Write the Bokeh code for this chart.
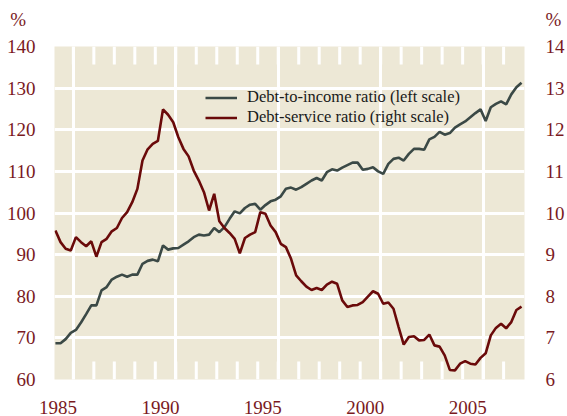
from bokeh.plotting import figure
from bokeh.models import Range1d, LinearAxis, FixedTicker, Grid, Legend, LegendItem, AllLabels
from bokeh.embed import file_html
from bokeh.resources import INLINE

# ---- data (quarterly, starting 1985 Q1) ----
start_year = 1984.875
debt_to_income = [
    68.7, 68.7, 69.7, 71.2, 71.9, 73.7, 75.7, 77.8, 77.8, 81.4,
    82.2, 84.0, 84.7, 85.2, 84.7, 85.2, 85.2, 87.8, 88.5, 88.8,
    88.4, 92.2, 91.2, 91.5, 91.6, 92.4, 93.2, 94.2, 94.8, 94.6,
    94.8, 96.4, 95.4, 96.6, 98.6, 100.4, 99.9, 101.2, 102.0, 102.2,
    100.8, 101.9, 102.8, 103.2, 104.0, 105.8, 106.1, 105.6, 106.2, 107.0,
    107.8, 108.4, 107.8, 109.8, 110.5, 110.2, 110.9, 111.5, 112.1, 112.1,
    110.4, 110.6, 111.0, 110.0, 109.4, 111.8, 113.0, 113.3, 112.6, 114.2,
    115.4, 115.4, 115.2, 117.7, 118.3, 119.5, 118.8, 119.2, 120.5, 121.3,
    122.0, 123.0, 124.0, 124.9, 122.1, 125.4, 126.2, 126.8, 126.1, 128.5,
    130.2, 131.3,
]
debt_service = [
    9.58, 9.30, 9.14, 9.10, 9.42, 9.30, 9.20, 9.32, 8.95, 9.30,
    9.38, 9.56, 9.64, 9.88, 10.02, 10.26, 10.58, 11.26, 11.53, 11.66,
    11.73, 12.49, 12.36, 12.18, 11.82, 11.54, 11.36, 11.02, 10.78, 10.50,
    10.06, 10.46, 9.80, 9.64, 9.52, 9.38, 9.03, 9.40, 9.48, 9.54,
    10.02, 9.98, 9.70, 9.54, 9.26, 9.18, 8.90, 8.50, 8.36, 8.23,
    8.15, 8.20, 8.15, 8.28, 8.35, 8.30, 7.90, 7.74, 7.78, 7.79,
    7.86, 7.99, 8.12, 8.06, 7.82, 7.85, 7.70, 7.26, 6.84, 7.02,
    7.04, 6.94, 6.95, 7.08, 6.82, 6.79, 6.58, 6.23, 6.22, 6.38,
    6.44, 6.38, 6.36, 6.52, 6.63, 7.06, 7.24, 7.34, 7.23, 7.38,
    7.67, 7.75,
]
year_labels = [1985, 1990, 1995, 2000, 2005]
all_years = list(range(1985, 2007))
left_ticks = [60, 70, 80, 90, 100, 110, 120, 130, 140]
right_ticks = [6, 7, 8, 9, 10, 11, 12, 13, 14]
series_names = ["Debt-to-income ratio (left scale)", "Debt-service ratio (right scale)"]
unit_label = "%"

x = [start_year + 0.25 * i for i in range(len(debt_to_income))]

BG = "#EDE8D6"
GREY = "#3B4946"
RED = "#6A0A0A"
TXT = "#7A1A1E"
FONT = "Liberation Serif"
NBSP = "\u00a0"

Y0, Y1 = 60, 140
p = figure(width=567, height=416, output_backend="svg", toolbar_location=None,
           x_range=Range1d(1984.83, 2007.77), y_range=Range1d(Y0, Y1),
           x_axis_type=None, y_axis_type=None,
           min_border_left=54, min_border_right=34, min_border_top=46, min_border_bottom=37)
p.extra_y_ranges = {"right": Range1d(6, 14)}
p.background_fill_color = BG
p.border_fill_color = "white"
p.outline_line_color = None

def label_axis(ax, standoff):
    ax.major_tick_line_color = None
    ax.minor_tick_line_color = None
    ax.axis_line_color = None
    ax.major_label_text_font = FONT
    ax.major_label_text_font_size = "19px"
    ax.major_label_text_color = TXT
    ax.major_label_standoff = standoff
    ax.major_label_policy = AllLabels()
    ax.major_label_text_line_height = 1.3
    return ax

# the "%" unit sits one line above the top tick label of each value axis
left_axis = label_axis(LinearAxis(ticker=FixedTicker(ticks=left_ticks)), 13)
left_axis.major_label_overrides = {left_ticks[-1]: unit_label + NBSP * 2 + "\n" + str(left_ticks[-1]) + "\n" + NBSP}
right_axis = label_axis(LinearAxis(y_range_name="right", ticker=FixedTicker(ticks=right_ticks)), 15)
right_axis.major_label_overrides = {right_ticks[-1]: unit_label + "\n" + str(right_ticks[-1]) + "\n" + NBSP}
p.add_layout(left_axis, "left")
p.add_layout(right_axis, "right")
p.add_layout(label_axis(LinearAxis(ticker=FixedTicker(ticks=year_labels)), 15), "below")

p.add_layout(Grid(dimension=1, ticker=FixedTicker(ticks=left_ticks[1:-1]),
                  grid_line_color="white", grid_line_width=3))
p.add_layout(Grid(dimension=0, ticker=FixedTicker(ticks=[yr + 0.75 for yr in year_labels]),
                  grid_line_color="white", grid_line_width=3))

# short white year ticks along the top and bottom edges of the plot area
px_per_unit = 333.0 / (Y1 - Y0)
tick_len = 18 / px_per_unit
minor_pos = [yr + 0.75 for yr in all_years]
p.segment(x0=minor_pos, x1=minor_pos, y0=[Y0] * len(minor_pos), y1=[Y0 + tick_len] * len(minor_pos),
          line_color="white", line_width=3)
p.segment(x0=minor_pos, x1=minor_pos, y0=[Y1] * len(minor_pos), y1=[Y1 - tick_len] * len(minor_pos),
          line_color="white", line_width=3)

r1 = p.line(x, debt_to_income, line_color=GREY, line_width=2.6)
r2 = p.line(x, debt_service, y_range_name="right", line_color=RED, line_width=2.6)

legend = Legend(items=[LegendItem(label=series_names[0], renderers=[r1]),
                       LegendItem(label=series_names[1], renderers=[r2])],
                location=(151, 252), background_fill_alpha=0, border_line_color=None,
                padding=0, margin=0, spacing=0, glyph_width=32, glyph_height=19,
                label_height=19, label_standoff=10, label_text_font=FONT,
                label_text_font_size="16.5px", label_text_color="#1A1A1A")
p.add_layout(legend)

open("out.html", "w").write(file_html(p, INLINE))
